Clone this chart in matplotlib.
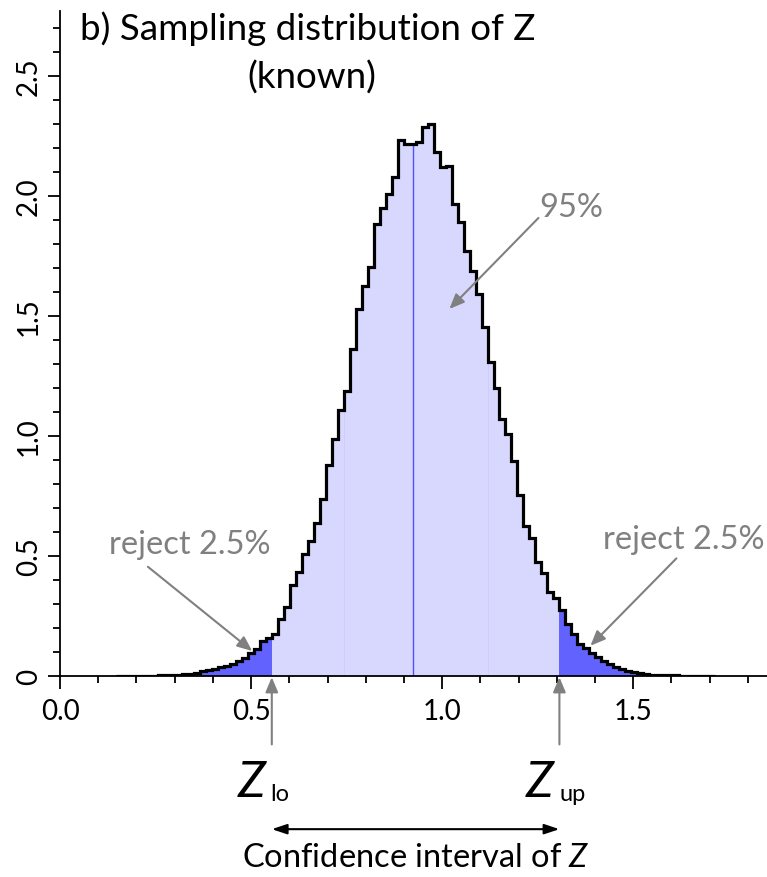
import numpy as np
import matplotlib
matplotlib.use("Agg")
from matplotlib import pyplot as plt
from matplotlib.ticker import MultipleLocator, FuncFormatter

plt.rcParams["font.family"] = ["Lato", "DejaVu Sans"]
plt.rcParams["mathtext.fontset"] = "custom"
plt.rcParams["mathtext.it"] = "Lato:italic"
plt.rcParams["mathtext.rm"] = "Lato"

# histogram of Z, 100 equal bins between the smallest and largest value
z_min = 0.1465
z_max = 1.7145
z_heights = [
    0.002, 0.001, 0.001, 0.001, 0.002, 0.002, 0.002, 0.003, 0.003, 0.004,
    0.006, 0.008, 0.010, 0.013, 0.019, 0.025, 0.030, 0.036, 0.043, 0.052,
    0.062, 0.075, 0.095, 0.112, 0.146, 0.160,
    0.175, 0.238, 0.287, 0.377, 0.432, 0.510, 0.562, 0.637, 0.739, 0.878,
    0.989, 1.107, 1.189, 1.362, 1.529, 1.626, 1.703, 1.883, 1.949, 2.008,
    2.078, 2.231, 2.217, 2.217, 2.224, 2.286, 2.300, 2.182, 2.119, 2.126,
    1.967, 1.890, 1.772, 1.689, 1.592, 1.453, 1.307, 1.200, 1.072, 1.010,
    0.896, 0.753, 0.625, 0.576, 0.475, 0.429, 0.350, 0.326, 0.274, 0.218,
    0.176, 0.135, 0.116,
    0.097, 0.080, 0.063, 0.049, 0.038, 0.028, 0.021, 0.016, 0.011, 0.008,
    0.006, 0.005, 0.004, 0.003, 0.003, 0.002, 0.002, 0.001, 0.002, 0.001,
    0.001,
]
z_lo = 0.5542      # 2.5 % quantile
z_q1 = 0.7424
z_median = 0.924
z_q3 = 1.1187
z_up = 1.3068      # 97.5 % quantile

light = "#d8d8ff"
dark = "#6262ff"
grey = "#808080"

edges = np.linspace(z_min, z_max, len(z_heights) + 1)
h = np.array(z_heights)

fig = plt.figure(figsize=(7.67, 8.78), dpi=100)
ax = fig.add_axes([60 / 767, 1 - 677 / 878, 707 / 767, 665 / 878])
ax.set_xlim(0, 1.85)
ax.set_ylim(0, 2.77)

# shaded parts of the histogram
parts = [(z_min, z_lo, dark), (z_lo, z_q1, light), (z_q1, z_q3, light),
         (z_q3, z_up, light), (z_up, z_max, dark)]
for x0, x1, col in parts:
    st = ax.stairs(h, edges, fill=True, color=col, lw=0, zorder=1)
    st.set_clip_path(plt.Rectangle((x0, 0), x1 - x0, 3, transform=ax.transData))

# faint seams between the light parts
for zq in [z_q1, z_q3]:
    i = np.searchsorted(edges, zq) - 1
    ax.plot([zq, zq], [0, h[i]], color="#cecef8", lw=0.7, zorder=2)

# median line
i_med = np.searchsorted(edges, z_median) - 1
ax.plot([z_median, z_median], [0, h[i_med]], color="#5050ff", lw=1.0, zorder=2)

ax.stairs(h, edges, color="black", lw=2.3, zorder=3)

for s in ["top", "right"]:
    ax.spines[s].set_visible(False)
for s in ["left", "bottom"]:
    ax.spines[s].set_linewidth(1.3)
    ax.spines[s].set_zorder(4)

ax.xaxis.set_major_locator(MultipleLocator(0.5))
ax.xaxis.set_minor_locator(MultipleLocator(0.1))
ax.yaxis.set_major_locator(MultipleLocator(0.5))
ax.yaxis.set_minor_locator(MultipleLocator(0.1))
ax.xaxis.set_major_formatter(FuncFormatter(lambda v, p: f"{v:.1f}"))
ax.yaxis.set_major_formatter(FuncFormatter(lambda v, p: "0" if v == 0 else f"{v:.1f}"))
ax.tick_params(which="major", length=9, width=1.3, labelsize=20)
ax.tick_params(which="minor", length=5, width=1.3)
ax.tick_params(axis="x", pad=7)
ax.tick_params(axis="y", pad=4)
for lab in ax.get_yticklabels():
    lab.set_rotation(90)
    lab.set_va("center")

# title
fig.text(80 / 767, 1 - 29 / 878, "b) Sampling distribution of Z", fontsize=26.5,
         ha="left", va="center")
fig.text(312 / 767, 1 - 78 / 878, "(known)", fontsize=26.5, ha="center", va="center")

# grey annotations
arrow_g = dict(arrowstyle="-|>,head_length=0.9,head_width=0.38", color=grey, lw=1.5,
               shrinkA=0, shrinkB=0)
ax.annotate("", xy=(0.503, 0.104), xytext=(0.23, 0.455), arrowprops=arrow_g)
ax.text(0.34, 0.55, "reject 2.5%", color=grey, fontsize=23.5, ha="center", va="center")
ax.annotate("", xy=(1.388, 0.126), xytext=(1.613, 0.49), arrowprops=arrow_g)
ax.text(1.633, 0.57, "reject 2.5%", color=grey, fontsize=23.5, ha="center", va="center")
ax.annotate("", xy=(1.019, 1.529), xytext=(1.252, 1.908), arrowprops=arrow_g)
ax.text(1.337, 1.955, "95%", color=grey, fontsize=23.5, ha="center", va="center")

# arrows to the quantiles
for zq in [z_lo, z_up]:
    ax.annotate("", xy=(zq, -0.005), xytext=(zq, -0.285), arrowprops=arrow_g,
                annotation_clip=False)

ax.text(z_lo - 0.052, -0.44, "Z", style="italic", fontsize=36, ha="center",
        va="center", clip_on=False)
ax.text(z_lo + 0.022, -0.49, "lo", fontsize=17, ha="center", va="center", clip_on=False)
ax.text(z_up - 0.052, -0.44, "Z", style="italic", fontsize=36, ha="center",
        va="center", clip_on=False)
ax.text(z_up + 0.034, -0.49, "up", fontsize=17, ha="center", va="center", clip_on=False)

ax.annotate("", xy=(z_lo, -0.638), xytext=(z_up, -0.638),
            arrowprops=dict(arrowstyle="<|-|>,head_length=0.9,head_width=0.3",
                            color="black", lw=1.5, shrinkA=0, shrinkB=0),
            annotation_clip=False)
ax.text((z_lo + z_up) / 2, -0.755, r"Confidence interval of $\it{Z}$", fontsize=23.5,
        ha="center", va="center", clip_on=False)

fig.savefig("out.png", dpi=100)
